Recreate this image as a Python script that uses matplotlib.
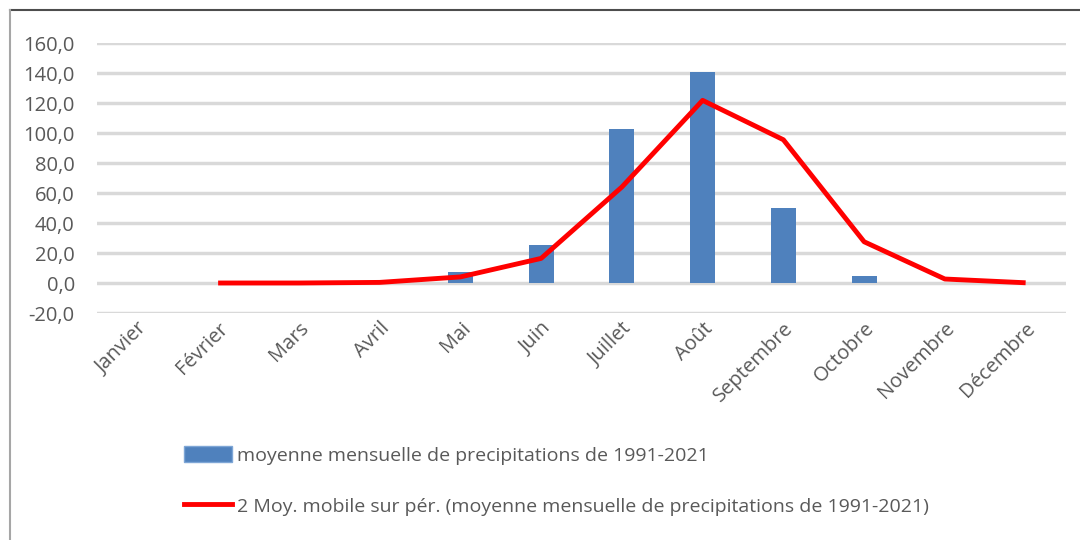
import matplotlib
matplotlib.use("Agg")
import matplotlib.pyplot as plt
import matplotlib.transforms as mtransforms
import numpy as np
import pandas as pd
from matplotlib.lines import Line2D
from matplotlib.patches import Rectangle

months = ["Janvier", "Février", "Mars", "Avril", "Mai", "Juin", "Juillet",
          "Août", "Septembre", "Octobre", "Novembre", "Décembre"]
precip = [0.0, 0.0, 0.0, 0.8, 7.3, 25.5, 102.5, 141.0, 50.0, 5.0, 0.3, 0.0]
yticks = [-20, 0, 20, 40, 60, 80, 100, 120, 140, 160]
bar_label = "moyenne mensuelle de precipitations de 1991-2021"
ma_label = "2 Moy. mobile sur pér. (moyenne mensuelle de precipitations de 1991-2021)"

plt.rcParams['font.family'] = ['Open Sans', 'DejaVu Sans']
txt = "#595959"

fig = plt.figure(figsize=(10.8, 5.4), dpi=100)
ax = fig.add_axes([97/1080, 1 - 313/540, (1066-97)/1080, (313-43)/540])

x = np.arange(len(months))
ma = pd.Series(precip).rolling(2).mean()

ax.bar(x, precip, width=0.31, color="#4f81bd", linewidth=0, zorder=3)
ax.plot(x, ma, color="#ff0000", linewidth=3.5, zorder=4, solid_capstyle="butt")

ax.set_xlim(-0.5, len(months) - 0.5)
ax.set_ylim(-20, 160)
ax.set_yticks(yticks)
ax.set_yticklabels([f"{v:.1f}".replace(".", ",") for v in yticks], color=txt, fontsize=14.5)
ax.set_xticks(x)
ax.set_xticklabels(months, rotation=45, ha="right", rotation_mode="anchor",
                   color=txt, fontsize=14.5)
offset = mtransforms.ScaledTranslation(-5/100, 4/100, fig.dpi_scale_trans)
for lab in ax.get_xticklabels():
    lab.set_transform(lab.get_transform() + offset)
ax.tick_params(axis="both", length=0)
ax.tick_params(axis="y", pad=16)
ax.tick_params(axis="x", pad=4)
ax.yaxis.grid(True, color="#d9d9d9", linewidth=2.5, zorder=0)
ax.set_axisbelow(True)
for s in ax.spines.values():
    s.set_visible(False)

handles = [Rectangle((0, 0), 1, 1, facecolor="#4f81bd", edgecolor="#7ea6d6"),
           Line2D([0], [0], color="#ff0000", linewidth=3.5)]
leg = fig.legend(handles, [bar_label, ma_label], loc="upper left",
                 bbox_to_anchor=(166/1080, 1 - 428/540), frameon=False,
                 fontsize=14, labelcolor=txt, handlelength=2.5, handletextpad=0.25,
                 labelspacing=1.65, handleheight=0.95)

# outer frame
fig.add_artist(Line2D([10/1080, 1.0], [1 - 10/540, 1 - 10/540], color="#4d4d4d",
                      linewidth=1.5, transform=fig.transFigure))
fig.add_artist(Line2D([10/1080, 10/1080], [0, 1 - 10/540], color="#a6a6a6",
                      linewidth=1.5, transform=fig.transFigure))

fig.savefig("out.png", dpi=100, facecolor="white")
